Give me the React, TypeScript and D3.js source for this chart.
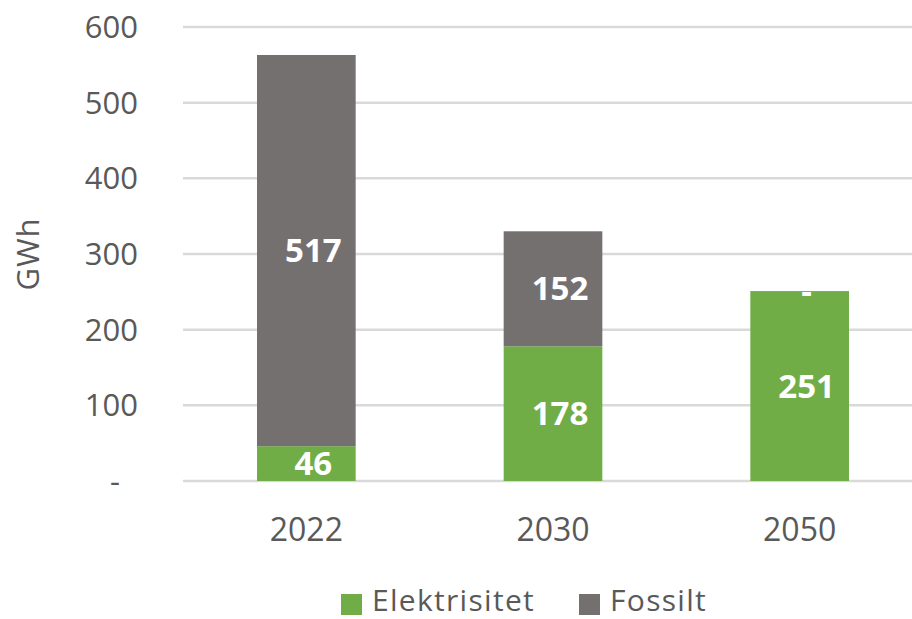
import React from "react";
import * as d3 from "d3";

const categories = ["2022", "2030", "2050"];
const elektrisitet = [46, 178, 251];
const fossilt = [517, 152, 0];
const yTicks = [0, 100, 200, 300, 400, 500, 600];
const seriesNames = ["Elektrisitet", "Fossilt"];
const seriesColors = ["#70ad47", "#747070"];

const W = 912;
const H = 619;
const FONT = "'Open Sans', 'Liberation Sans', sans-serif";
const TEXT = "#595959";

export default function App() {
  const x = d3
    .scaleBand<string>()
    .domain(categories)
    .range([183, 923])
    .paddingInner(0.6)
    .paddingOuter(0.3);
  const y = d3.scaleLinear().domain([0, 600]).range([481, 27]);

  const rows = categories.map((c, i) => ({ cat: c, Elektrisitet: elektrisitet[i], Fossilt: fossilt[i] }));
  const stack = d3.stack<any>().keys(seriesNames)(rows);

  const fmt = (v: number) => (v === 0 ? "-" : String(v));

  return (
    <svg
      width={W}
      height={H}
      style={{ position: "absolute", left: 0, top: 0, background: "#fff" }}
      fontFamily={FONT}
    >
      {yTicks.map((t) => (
        <line key={"g" + t} x1={183} x2={W} y1={y(t)} y2={y(t)} stroke="#d9d9d9" strokeWidth={2.5} />
      ))}
      {yTicks.map((t) => (
        <text
          key={"t" + t}
          x={t === 0 ? 115 : 138}
          y={y(t)}
          dy="0.35em"
          textAnchor={t === 0 ? "middle" : "end"}
          fontSize={31}
          fill={TEXT}
        >
          {fmt(t)}
        </text>
      ))}
      <text
        transform={`translate(39,254) rotate(-90)`}
        textAnchor="middle"
        fontSize={31}
        letterSpacing={1}
        fill={TEXT}
      >
        GWh
      </text>
      {stack.map((s, si) =>
        s.map((d, i) => (
          <rect
            key={si + "-" + i}
            x={x(categories[i])!}
            width={x.bandwidth()}
            y={y(d[1])}
            height={y(d[0]) - y(d[1])}
            fill={seriesColors[si]}
          />
        ))
      )}
      {stack.map((s, si) =>
        s.map((d, i) => (
          <text
            key={"l" + si + "-" + i}
            x={x(categories[i])! + x.bandwidth() / 2 + 7}
            y={y((d[0] + d[1]) / 2)}
            dy="0.35em"
            textAnchor="middle"
            fontSize={33}
            fontWeight="bold"
            fill="#ffffff"
          >
            {fmt(d[1] - d[0])}
          </text>
        ))
      )}
      {categories.map((c) => (
        <text
          key={"x" + c}
          x={x(c)! + x.bandwidth() / 2}
          y={530}
          dy="0.35em"
          textAnchor="middle"
          fontSize={32}
          fill={TEXT}
        >
          {c}
        </text>
      ))}
      {seriesNames.map((n, i) => {
        const lx = i === 0 ? 341 : 579;
        return (
          <g key={"lg" + n}>
            <rect x={lx} y={594} width={21} height={21} fill={seriesColors[i]} />
            <text x={lx + 31} y={611} fontSize={30} letterSpacing={1.3} fill={TEXT}>
              {n}
            </text>
          </g>
        );
      })}
    </svg>
  );
}
